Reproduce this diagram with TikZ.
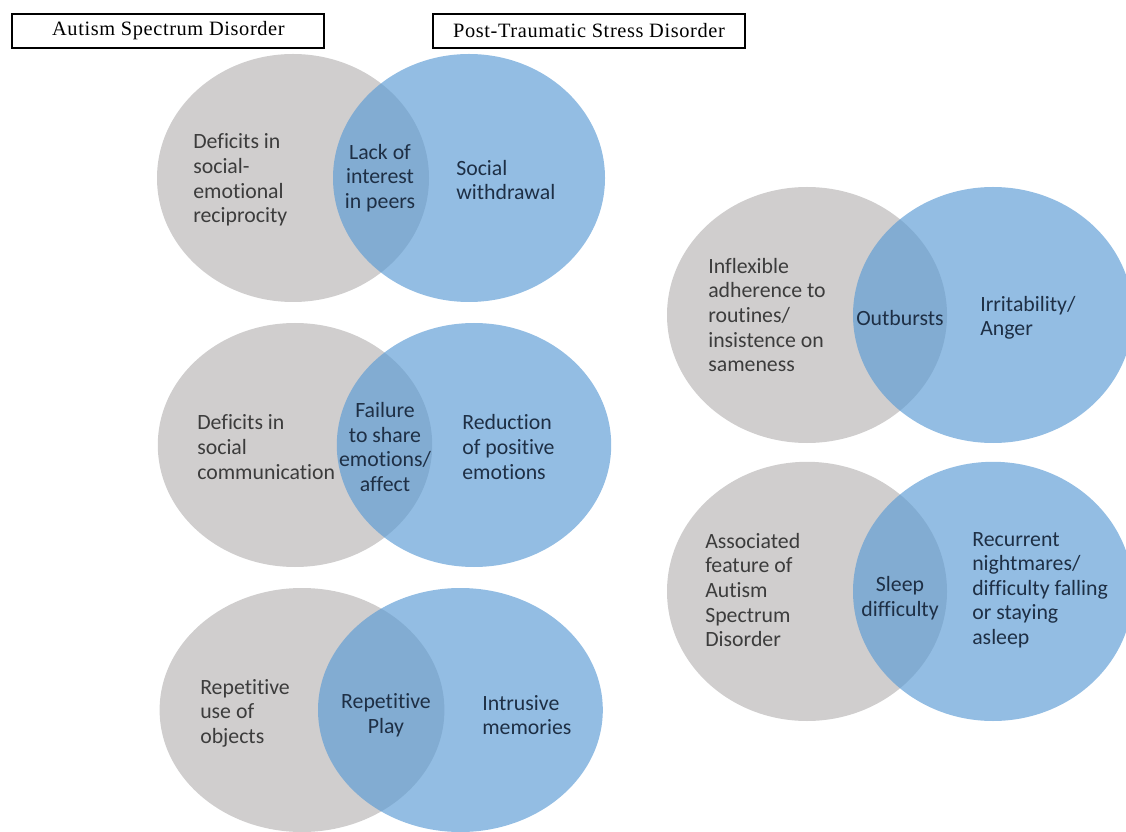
\documentclass[tikz,border=0pt]{standalone}
\usepackage{fontspec}
\setmainfont{Carlito}[Ligatures=NoCommon]
\newfontfamily\headfont{Liberation Serif}[LetterSpace=3]
\definecolor{asdgray}{HTML}{D0CECE}
\definecolor{ptsdblue}{HTML}{5B9BD5}
\definecolor{asdink}{HTML}{3C3C3C}
\definecolor{ptsdink}{HTML}{1E2F45}
\tikzset{
  asd/.style={fill=asdgray},
  ptsd/.style={fill=ptsdblue, fill opacity=0.66},
  header/.style={draw=black, line width=1.4pt, minimum width=7.8cm, minimum height=0.85cm, inner sep=0pt, font=\headfont\fontsize{14.5}{16}\selectfont},
  txt/.style={inner sep=0pt, font=\fontsize{15.5}{17.5}\selectfont},
  asdside/.style={txt, anchor=west, align=left, text=asdink},
  ptsdside/.style={txt, anchor=west, align=left, text=ptsdink},
  shared/.style={txt, align=center, text=ptsdink}
}

\begin{document}
\begin{tikzpicture}
\useasboundingbox (0,0) rectangle (28.15,20.775);

% disorder headings
\node[header] (asdhead) at (4.21,20.0) {Autism Spectrum Disorder};
\node[header] (ptsdhead) at (14.725,20.0) {Post-Traumatic Stress Disorder};

% left column
\fill[asd] (7.325,16.325) ellipse [x radius=3.4, y radius=3.1];
\fill[ptsd] (11.725,16.325) ellipse [x radius=3.4, y radius=3.1];
\fill[asd] (7.375,9.65) ellipse [x radius=3.43, y radius=3.05];
\fill[ptsd] (11.85,9.65) ellipse [x radius=3.43, y radius=3.05];
\fill[asd] (7.55,3.025) ellipse [x radius=3.56, y radius=3.05];
\fill[ptsd] (11.51,3.025) ellipse [x radius=3.56, y radius=3.05];

% right column
\fill[asd] (20.175,12.9) ellipse [x radius=3.5, y radius=3.2];
\fill[ptsd] (24.825,12.9) ellipse [x radius=3.5, y radius=3.2];
\fill[asd] (20.175,5.99) ellipse [x radius=3.5, y radius=3.24];
\fill[ptsd] (24.825,5.99) ellipse [x radius=3.5, y radius=3.24];

% social reciprocity
\node[asdside] (recip) at (4.825,16.275) {Deficits in\\social-\\emotional\\reciprocity};
\node[shared] (peers) at (9.5,16.325) {Lack of\\interest\\in peers};
\node[ptsdside] (withdraw) at (11.4,16.275) {Social\\withdrawal};

% communication
\node[asdside] (commun) at (4.925,9.6) {Deficits in\\social\\communication};
\node[shared] (affect) at (9.625,9.6) {Failure\\to share\\emotions/\\affect};
\node[ptsdside] (positive) at (11.55,9.6) {Reduction\\of positive\\emotions};

% repetition
\node[asdside] (objects) at (5.0,2.95) {Repetitive\\use of\\objects};
\node[shared] (play) at (9.65,2.9) {Repetitive\\Play};
\node[ptsdside] (intrusive) at (12.05,2.9) {Intrusive\\memories};

% routines
\node[asdside] (routines) at (17.7,12.9) {Inflexible\\adherence to\\routines/\\insistence on\\sameness};
\node[shared] (outbursts) at (22.5,12.825) {Outbursts};
\node[ptsdside] (anger) at (24.5,12.825) {Irritability/\\Anger};

% sleep
\node[asdside] (feature) at (17.625,6.025) {Associated\\feature of\\Autism\\Spectrum\\Disorder};
\node[shared] (sleep) at (22.5,5.825) {Sleep\\difficulty};
\node[ptsdside] (nightmares) at (24.3,6.025) {Recurrent\\nightmares/\\difficulty falling\\or staying\\asleep};
\end{tikzpicture}
\end{document}
